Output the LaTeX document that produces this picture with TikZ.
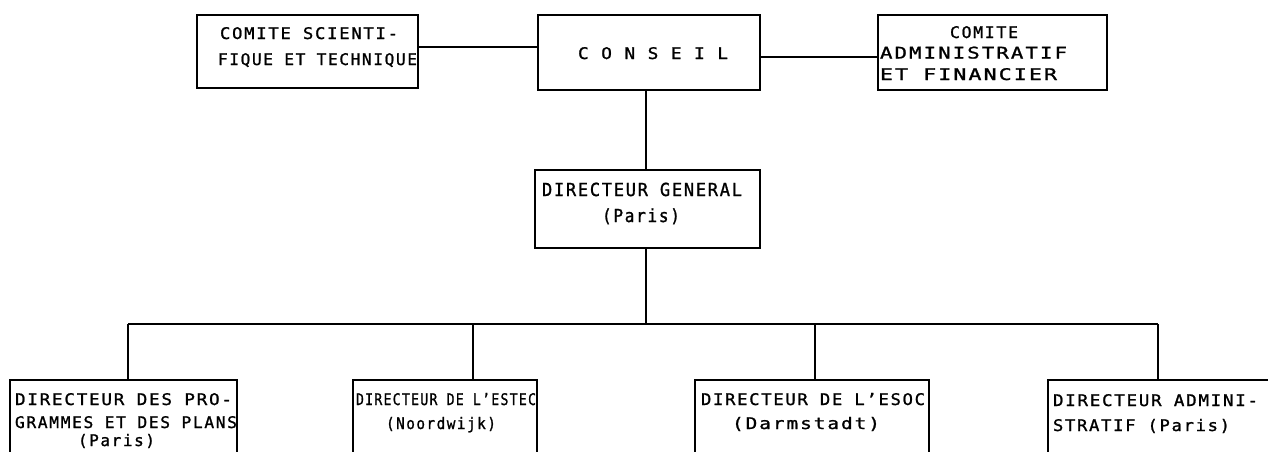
\documentclass[tikz,border=0pt]{standalone}
\usepackage{fontspec}
\setmainfont{DejaVu Sans Mono}[LetterSpace=10, FakeBold=1.2]
\usepackage{graphicx}
\newcommand{\fitto}[2]{\resizebox{#1pt}{\height}{#2}}
\tikzset{
  box/.style={draw, line width=1.5pt, inner sep=0pt, outer sep=0pt, anchor=north west},
  lbl/.style={anchor=base west, inner sep=0pt, outer sep=0pt, font=\fontsize{16}{16}\selectfont},
  wire/.style={line width=1.5pt},
  bus/.style={line width=2pt}
}
\begin{document}
\begin{tikzpicture}[x=1pt,y=-1pt]
\useasboundingbox (0,0) rectangle (1268,451);
\clip (0,0) rectangle (1268,451);
% top row
\node[box, minimum width=221pt, minimum height=73pt] (cst) at (197,15) {};
\node[box, minimum width=222pt, minimum height=75pt] (conseil) at (538,15) {};
\node[box, minimum width=229pt, minimum height=75pt] (caf) at (878,15) {};
% director general
\node[box, minimum width=225pt, minimum height=78pt] (dg) at (535,170) {};
% bottom row
\node[box, minimum width=227pt, minimum height=100pt] (dpp) at (10,380) {};
\node[box, minimum width=184pt, minimum height=100pt] (estec) at (353,380) {};
\node[box, minimum width=234pt, minimum height=100pt] (esoc) at (695,380) {};
\node[box, minimum width=260pt, minimum height=100pt] (dadm) at (1048,380) {};
% texts
\node[lbl] (t1a) at (220,39) {\fitto{178}{COMITE SCIENTI-}};
\node[lbl] (t1b) at (218,65) {\fitto{199}{FIQUE ET TECHNIQUE}};
\node[lbl] (tc) at (578,59) {\fitto{150}{C O N S E I L}};
\node[lbl] (t3a) at (950,38) {\fitto{68}{COMITE}};
\node[lbl] (t3b) at (880,58.5) {\fitto{187}{ADMINISTRATIF}};
\node[lbl] (t3c) at (880,80) {\fitto{177}{ET FINANCIER}};
\node[lbl, font=\fontsize{18}{18}\selectfont] (tdg1) at (542,196) {\fitto{200}{DIRECTEUR GENERAL}};
\node[lbl, font=\fontsize{18}{18}\selectfont] (tdg2) at (602,222) {\fitto{78}{(Paris)}};
\node[lbl] (ta1) at (15,405) {\fitto{217}{DIRECTEUR DES PRO-}};
\node[lbl] (ta2) at (15,428) {\fitto{222}{GRAMMES ET DES PLANS}};
\node[lbl] (ta3) at (78,446) {\fitto{77}{(Paris)}};
\node[lbl] (tb1) at (356,405) {\fitto{180}{DIRECTEUR DE L'ESTEC}};
\node[lbl] (tb2) at (386,429) {\fitto{110}{(Noordwijk)}};
\node[lbl] (tc1) at (701,405) {\fitto{224}{DIRECTEUR DE L'ESOC}};
\node[lbl] (tc2) at (732,429) {\fitto{148}{(Darmstadt)}};
\node[lbl] (td1) at (1053,406) {\fitto{205}{DIRECTEUR ADMINI-}};
\node[lbl] (td2) at (1053,431) {\fitto{177}{STRATIF (Paris)}};
% connectors
\draw[wire] (cst.east |- 0,47) -- (conseil.west |- 0,47);
\draw[wire] (conseil.east |- 0,57) -- (caf.west |- 0,57);
\draw[wire] (conseil.south -| 646,0) -- (dg.north -| 646,0);
\coordinate (busL) at (128,324);
\coordinate (busR) at (1158,324);
\coordinate (busM) at (646,324);
\draw[wire] (dg.south -| busM) -- (busM);
\draw[bus] (busL) -- (busR);
\draw[wire] (busL) -- (dpp.north -| busL);
\draw[wire] (473,324) -- (estec.north -| 473,0);
\draw[wire] (815,324) -- (esoc.north -| 815,0);
\draw[wire] (busR) -- (dadm.north -| busR);
\end{tikzpicture}
\end{document}
